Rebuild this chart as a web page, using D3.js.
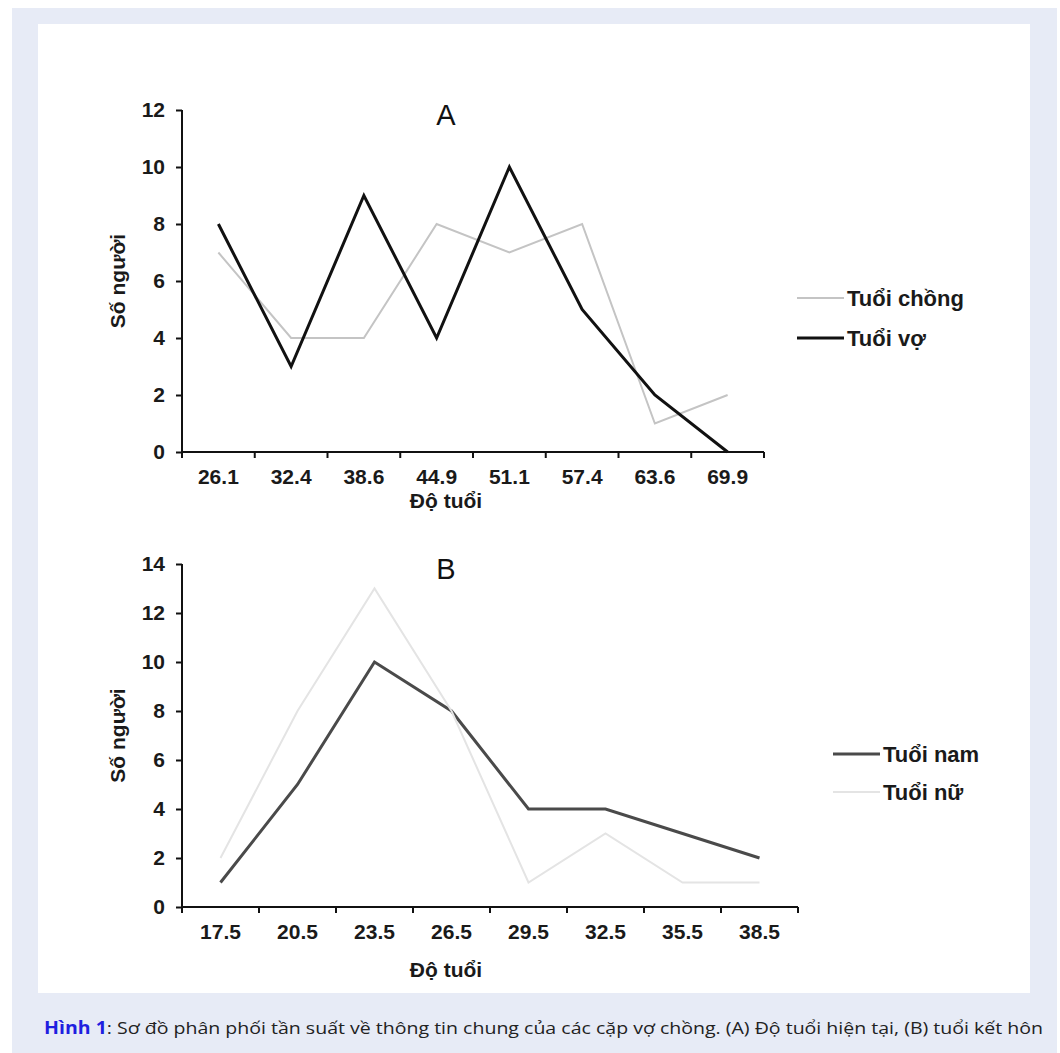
<!DOCTYPE html>
<html>
<head>
<meta charset="utf-8">
<script src="https://cdn.jsdelivr.net/npm/d3@7"></script>
<style>
  body { margin: 0; background: #fff; }
  svg { display: block; }
</style>
</head>
<body>
<div id="chart"></div>
<script>
// chart A: current age
var agesA = ["26.1", "32.4", "38.6", "44.9", "51.1", "57.4", "63.6", "69.9"];
var husbandA = [7, 4, 4, 8, 7, 8, 1, 2];
var wifeA = [8, 3, 9, 4, 10, 5, 2, 0];
var yTicksA = [0, 2, 4, 6, 8, 10, 12];

// chart B: marriage age
var agesB = ["17.5", "20.5", "23.5", "26.5", "29.5", "32.5", "35.5", "38.5"];
var maleB = [1, 5, 10, 8, 4, 4, 3, 2];
var femaleB = [2, 8, 13, 8, 1, 3, 1, 1];
var yTicksB = [0, 2, 4, 6, 8, 10, 12, 14];

var W = 1060, H = 1053;
var font = "'Liberation Sans', Arial, sans-serif";

var svg = d3.select("#chart").append("svg")
   .attr("width", W)
   .attr("height", H);

// page background and white panel
svg.append("rect").attr("x", 12).attr("y", 8).attr("width", 1045).attr("height", H - 8).attr("fill", "#e7ebf6");
svg.append("rect").attr("x", 38).attr("y", 24).attr("width", 992).attr("height", 969).attr("fill", "#fff");

function draw_panel(opt) {
   var x = d3.scaleBand().domain(opt.cats).range([opt.x0, opt.x1]);
   var y = d3.scaleLinear().domain([0, opt.ymax]).range([opt.y0, opt.y1]);
   var g = svg.append("g");

   // y axis
   var ya = g.append("g")
      .attr("transform", "translate(" + opt.x0 + ",0)")
      .call(d3.axisLeft(y).tickValues(opt.yticks).tickSize(6).tickPadding(11));
   // x axis, ticks on band edges
   var xa = g.append("g")
      .attr("transform", "translate(0," + opt.y0 + ")")
      .call(d3.axisBottom(x).tickSize(0).tickPadding(17));

   var edges = opt.cats.map(function (c) { return x(c); }).concat([opt.x1]);
   xa.selectAll(".edge").data(edges).enter().append("line")
      .attr("x1", function (d) { return d; }).attr("x2", function (d) { return d; })
      .attr("y1", 0).attr("y2", 6)
      .attr("stroke", "#111").attr("stroke-width", 2);

   [ya, xa].forEach(function (a) {
      a.select(".domain").attr("stroke", "#111").attr("stroke-width", 2);
      a.selectAll(".tick line").attr("stroke", "#111").attr("stroke-width", 2);
      a.selectAll("text").attr("font-family", font).attr("font-weight", "bold")
         .attr("font-size", 21).attr("fill", "#1a1a1a");
   });
   ya.select(".domain").attr("d", "M0," + opt.y0 + "V" + opt.y1);
   xa.select(".domain").attr("d", "M" + opt.x0 + ",0H" + opt.x1);

   var line = d3.line()
      .x(function (d, i) { return x(opt.cats[i]) + x.bandwidth() / 2; })
      .y(function (d) { return y(d); });

   opt.series.forEach(function (s) {
      g.append("path").datum(s.values)
         .attr("d", line)
         .attr("fill", "none")
         .attr("stroke", s.color)
         .attr("stroke-width", s.width)
         .attr("stroke-linejoin", "miter");
   });

   // title letter
   g.append("text").attr("x", 446).attr("y", opt.y1 + 15)
      .attr("text-anchor", "middle").attr("font-family", font)
      .attr("font-size", 29).attr("fill", "#111").text(opt.title);

   // axis titles
   g.append("text")
      .attr("transform", "translate(125," + ((opt.y0 + opt.y1) / 2) + ") rotate(-90)")
      .attr("text-anchor", "middle").attr("font-family", font).attr("font-weight", "bold")
      .attr("font-size", 21).attr("fill", "#1a1a1a").text("Số người");
   g.append("text").attr("x", 446).attr("y", opt.y0 + opt.xTitleDy)
      .attr("text-anchor", "middle").attr("font-family", font).attr("font-weight", "bold")
      .attr("font-size", 21).attr("fill", "#1a1a1a").text("Độ tuổi");

   // legend
   opt.series.forEach(function (s, i) {
      var ly = opt.legY + i * opt.legGap;
      g.append("line").attr("x1", opt.legX).attr("x2", opt.legX + 47)
         .attr("y1", ly).attr("y2", ly)
         .attr("stroke", s.color).attr("stroke-width", s.width);
      g.append("text").attr("x", opt.legX + 50).attr("y", ly + 8)
         .attr("font-family", font).attr("font-weight", "bold")
         .attr("font-size", 22).attr("fill", "#1a1a1a").text(s.name);
   });
}

draw_panel({
   cats: agesA, x0: 182, x1: 764, y0: 452, y1: 110, ymax: 12, yticks: yTicksA, title: "A",
   xTitleDy: 56, legX: 797, legY: 298, legGap: 40,
   series: [
      { name: "Tuổi chồng", values: husbandA, color: "#c4c4c4", width: 2 },
      { name: "Tuổi vợ", values: wifeA, color: "#111", width: 3 }
   ]
});

draw_panel({
   cats: agesB, x0: 182, x1: 798, y0: 907, y1: 564, ymax: 14, yticks: yTicksB, title: "B",
   xTitleDy: 70, legX: 833, legY: 754, legGap: 38,
   series: [
      { name: "Tuổi nam", values: maleB, color: "#4a4a4a", width: 3 },
      { name: "Tuổi nữ", values: femaleB, color: "#e4e4e4", width: 2 }
   ]
});

// caption
var cap = svg.append("text").attr("x", 44).attr("y", 1034)
   .attr("font-family", "'Open Sans', 'Noto Sans', sans-serif").attr("font-size", 17)
   .attr("fill", "#222").attr("textLength", 999).attr("lengthAdjust", "spacingAndGlyphs");
cap.append("tspan").attr("font-weight", "bold").attr("fill", "#1f1fe0").text("Hình 1");
cap.append("tspan").text(": Sơ đồ phân phối tần suất về thông tin chung của các cặp vợ chồng. (A) Độ tuổi hiện tại, (B) tuổi kết hôn");
</script>
</body>
</html>
